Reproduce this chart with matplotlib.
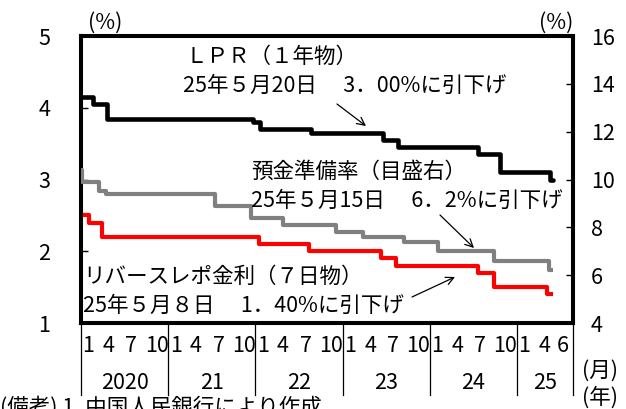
import matplotlib
matplotlib.use("Agg")
import matplotlib.pyplot as plt
import matplotlib.dates as mdates
from matplotlib import font_manager as fm
import pandas as pd

# ---------------- data ----------------
lpr_dates = ["2020-01-01", "2020-02-20", "2020-04-20", "2021-12-20", "2022-01-20",
             "2022-08-22", "2023-06-20", "2023-08-21", "2024-07-22", "2024-10-21",
             "2025-05-20", "2025-05-31"]
lpr_values = [4.15, 4.05, 3.85, 3.80, 3.70, 3.65, 3.55, 3.45, 3.35, 3.10, 3.00, 3.00]

rrr_dates = ["2020-01-01", "2020-01-06", "2020-03-16", "2020-04-15", "2021-07-15",
             "2021-12-15", "2022-04-25", "2022-12-05", "2023-03-27", "2023-09-15",
             "2024-02-05", "2024-09-27", "2025-05-15", "2025-05-31"]
rrr_values = [10.4, 9.9, 9.5, 9.4, 8.9, 8.4, 8.1, 7.8, 7.6, 7.4, 7.0, 6.6, 6.2, 6.2]

repo_dates = ["2020-01-01", "2020-02-03", "2020-03-30", "2022-01-17", "2022-08-15",
              "2023-06-13", "2023-08-15", "2024-07-22", "2024-09-27", "2025-05-08",
              "2025-05-31"]
repo_values = [2.50, 2.40, 2.20, 2.10, 2.00, 1.90, 1.80, 1.70, 1.50, 1.40, 1.40]

years = [2020, 2021, 2022, 2023, 2024, 2025]
year_labels = ["2020", "21", "22", "23", "24", "25"]
month_labels = [["1", "4", "7", "10"]] * 5 + [["1", "4", "6"]]
left_ticks = [1, 2, 3, 4, 5]
right_ticks = [4, 6, 8, 10, 12, 14, 16]

# ---------------- fonts ----------------
available = {f.name for f in fm.fontManager.ttflist}
fams = []
if "Liberation Sans Narrow" in available:
    fams.append("Liberation Sans Narrow")
fams += ["Noto Sans CJK JP", "DejaVu Sans"]
plt.rcParams["font.family"] = fams
FS = 15.5

W, H = 626, 409


def px(x, y):
    return (x / W, 1 - y / H)


fig = plt.figure(figsize=(W / 100, H / 100), dpi=100)
ax = fig.add_axes([81 / W, 1 - 323 / H, 492 / W, 287 / H])
ax2 = ax.twinx()

x0 = mdates.date2num(pd.Timestamp("2020-01-01"))
xend = mdates.date2num(pd.Timestamp("2025-08-24"))
MON = 365.25 / 12

ax.step(pd.to_datetime(lpr_dates), lpr_values, where="post", color="black", lw=3.3,
        solid_capstyle="round", zorder=5)
ax.step(pd.to_datetime(repo_dates), repo_values, where="post", color="#ff0000", lw=3.0,
        solid_capstyle="butt", zorder=4)
ax2.step(pd.to_datetime(rrr_dates), rrr_values, where="post", color="#808080", lw=3.0,
         solid_capstyle="butt", zorder=3)

ax.set_xlim(x0, xend)
ax.set_ylim(1, 5)
ax2.set_ylim(4, 16)
ax.set_yticks(left_ticks)
ax2.set_yticks(right_ticks)
ax.set_yticklabels([str(v) for v in left_ticks], fontsize=FS)
ax2.set_yticklabels([str(v) for v in right_ticks], fontsize=FS)
ax.tick_params(axis="y", direction="in", length=5, width=1, pad=22)
ax2.tick_params(axis="y", direction="in", length=5, width=1, pad=13)
ax.set_xticks([])
ax2.set_xticks([])

for a in (ax, ax2):
    for s in a.spines.values():
        s.set_linewidth(2.9)
        s.set_color("black")

# x axis: separators, month labels, year labels
xt = ax.get_xaxis_transform()
bounds = [mdates.date2num(pd.Timestamp(f"{y}-01-01")) for y in years] + [xend]
for b in bounds:
    ax.plot([b, b], [0, -0.251], transform=xt, clip_on=False, color="black", lw=0.9)

month_off = {"1": 1.0, "4": 3.8, "6": 6.3, "7": 6.9, "10": 10.4}
for i, y in enumerate(years):
    ys = bounds[i]
    for m in month_labels[i]:
        ax.text(ys + month_off[m] * MON, -0.08, m, transform=xt, ha="center",
                va="center", fontsize=FS, clip_on=False)
    ax.text((bounds[i] + bounds[i + 1]) / 2, -0.21, year_labels[i], transform=xt,
            ha="center", va="center", fontsize=FS, clip_on=False)

# unit labels
fig.text(*px(88, 23), "(%)", ha="left", va="center", fontsize=FS)
fig.text(*px(573, 23), "(%)", ha="right", va="center", fontsize=FS)
fig.text(*px(582, 371), "(月)", ha="left", va="center", fontsize=FS)
fig.text(*px(582, 398), "(年)", ha="left", va="center", fontsize=FS)
fig.text(*px(0, 396), "(備考) 1. 中国人民銀行により作成", ha="left", va="top", fontsize=FS)

# annotations
fig.text(*px(185, 57), "ＬＰＲ（１年物）", ha="left", va="center", fontsize=FS)
fig.text(*px(183, 86), "25年５月20日　 3．00%に引下げ", ha="left", va="center", fontsize=FS)
fig.text(*px(251, 172), "預金準備率（目盛右）", ha="left", va="center", fontsize=FS)
fig.text(*px(251, 201), "25年５月15日　 6．2%に引下げ", ha="left", va="center", fontsize=FS)
fig.text(*px(83, 277), "リバースレポ金利（７日物）", ha="left", va="center", fontsize=FS)
fig.text(*px(83, 306), "25年５月８日　 1．40%に引下げ", ha="left", va="center", fontsize=FS)

arrow = dict(arrowstyle="->", lw=0.9, color="black", mutation_scale=14,
             shrinkA=0, shrinkB=0)
for tail, head in [((337, 104), (366, 126)),
                   ((440, 215), (474, 248)),
                   ((412, 297), (455, 277))]:
    ax.annotate("", xy=px(*head), xytext=px(*tail), xycoords="figure fraction",
                textcoords="figure fraction", arrowprops=arrow, annotation_clip=False)

fig.savefig("out.png", dpi=100)
